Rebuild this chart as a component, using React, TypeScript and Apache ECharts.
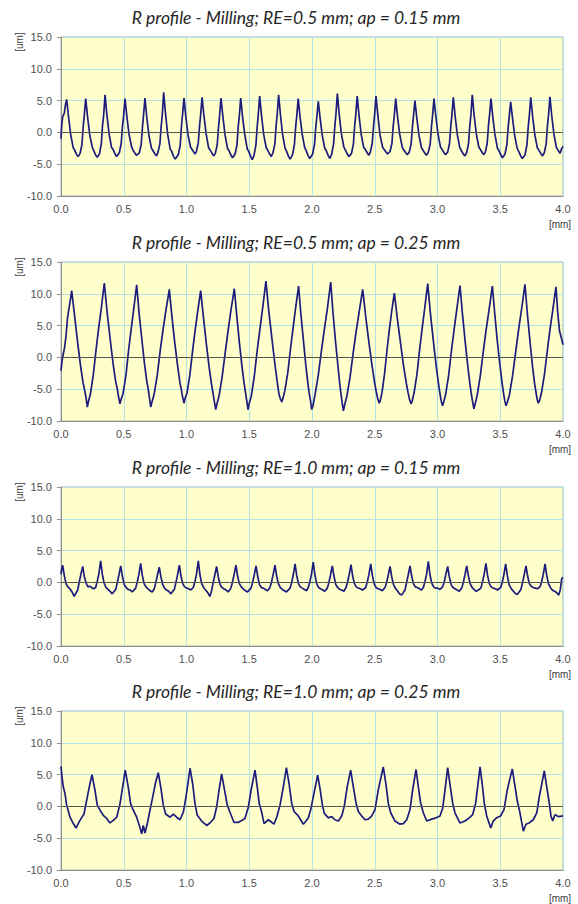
import { useEffect, useRef } from "react";
import * as echarts from "echarts";

const chartTitles = [
  "R profile - Milling; RE=0.5 mm; ap = 0.15 mm",
  "R profile - Milling; RE=0.5 mm; ap = 0.25 mm",
  "R profile - Milling; RE=1.0 mm; ap = 0.15 mm",
  "R profile - Milling; RE=1.0 mm; ap = 0.25 mm",
];
const yUnit = "[um]";
const xUnit = "[mm]";

// profile 1: RE=0.5 mm, ap=0.15 mm  [x mm, z um]
const profile1: [number, number][] = [
  [0,-1.0],[0.006,1.2],[0.014,2.5],[0.026,3.0],[0.036,4.4],
  [0.045,5.2],[0.060,2.5],[0.077,-0.3],[0.097,-2.4],[0.107,-2.7],[0.125,-3.5],[0.137,-3.8],[0.152,-3.3],[0.167,-1.9],[0.177,0.9],[0.186,2.8],
  [0.197,5.3],[0.212,2.4],[0.229,-0.4],[0.249,-2.3],[0.259,-2.8],[0.277,-3.6],[0.289,-3.9],[0.306,-3.4],[0.321,-1.8],[0.331,1.1],[0.340,2.7],
  [0.351,5.9],[0.366,2.7],[0.383,-0.2],[0.403,-2.4],[0.413,-2.6],[0.431,-3.4],[0.443,-3.8],[0.465,-3.2],[0.480,-1.7],[0.490,1.0],[0.499,2.6],
  [0.510,5.3],[0.525,2.5],[0.542,-0.3],[0.562,-2.2],[0.572,-2.7],[0.590,-3.3],[0.602,-3.6],[0.624,-3.2],[0.639,-1.9],[0.649,0.8],[0.658,2.8],
  [0.669,5.4],[0.684,2.3],[0.701,-0.5],[0.721,-2.5],[0.731,-2.8],[0.749,-3.4],[0.761,-3.7],[0.773,-3.1],[0.788,-1.8],[0.798,0.9],[0.807,2.7],
  [0.818,6.3],[0.833,2.9],[0.850,-0.3],[0.870,-2.6],[0.880,-2.9],[0.898,-3.8],[0.910,-4.2],[0.935,-3.5],[0.950,-2.0],[0.960,1.0],[0.969,2.9],
  [0.980,5.4],[0.995,2.4],[1.012,-0.4],[1.032,-2.3],[1.042,-2.6],[1.058,-3.1],[1.070,-3.4],[1.079,-3.0],[1.094,-1.6],[1.104,1.0],[1.113,2.8],
  [1.124,5.5],[1.139,2.6],[1.156,-0.2],[1.176,-2.4],[1.186,-2.7],[1.204,-3.3],[1.216,-3.7],[1.230,-3.3],[1.245,-1.9],[1.255,0.8],[1.264,2.7],
  [1.275,5.4],[1.290,2.5],[1.307,-0.4],[1.327,-2.5],[1.337,-2.8],[1.355,-3.6],[1.367,-4.0],[1.387,-3.4],[1.402,-2.0],[1.412,0.9],[1.421,2.6],
  [1.432,5.4],[1.447,2.4],[1.464,-0.3],[1.484,-2.6],[1.494,-2.9],[1.512,-3.8],[1.524,-4.3],[1.538,-3.6],[1.553,-2.0],[1.563,0.8],[1.572,2.8],
  [1.583,5.7],[1.598,2.6],[1.615,-0.3],[1.635,-2.4],[1.645,-2.7],[1.663,-3.4],[1.675,-3.8],[1.689,-3.2],[1.704,-1.8],[1.714,1.0],[1.723,2.9],
  [1.734,5.9],[1.749,2.7],[1.766,-0.4],[1.786,-2.5],[1.796,-2.9],[1.814,-3.8],[1.826,-4.2],[1.845,-3.5],[1.860,-1.9],[1.870,0.9],[1.879,2.7],
  [1.890,5.3],[1.905,2.4],[1.922,-0.3],[1.942,-2.4],[1.952,-2.8],[1.970,-3.7],[1.982,-4.1],[2.005,-3.4],[2.020,-1.9],[2.030,0.8],[2.039,2.5],
  [2.050,4.9],[2.065,2.2],[2.082,-0.5],[2.102,-2.5],[2.112,-2.8],[2.130,-3.7],[2.142,-4.1],[2.157,-3.4],[2.172,-1.8],[2.182,1.0],[2.191,2.9],
  [2.202,6.1],[2.217,2.8],[2.234,-0.2],[2.254,-2.3],[2.264,-2.7],[2.282,-3.4],[2.294,-3.8],[2.315,-3.3],[2.330,-1.8],[2.340,1.0],[2.349,2.8],
  [2.360,5.7],[2.375,2.6],[2.392,-0.3],[2.412,-2.4],[2.422,-2.6],[2.440,-3.2],[2.452,-3.6],[2.465,-3.1],[2.480,-1.7],[2.490,0.9],[2.499,2.8],
  [2.510,5.7],[2.525,2.6],[2.542,-0.4],[2.562,-2.3],[2.572,-2.6],[2.590,-3.1],[2.602,-3.4],[2.622,-3.0],[2.637,-1.7],[2.647,1.0],[2.656,2.7],
  [2.667,5.3],[2.682,2.4],[2.699,-0.3],[2.719,-2.3],[2.729,-2.7],[2.747,-3.2],[2.759,-3.5],[2.775,-3.1],[2.790,-1.8],[2.800,0.8],[2.809,2.6],
  [2.820,5.0],[2.835,2.3],[2.852,-0.4],[2.872,-2.4],[2.882,-2.7],[2.900,-3.3],[2.912,-3.6],[2.927,-3.1],[2.942,-1.8],[2.952,0.9],[2.961,2.7],
  [2.972,5.3],[2.987,2.5],[3.004,-0.3],[3.024,-2.3],[3.034,-2.6],[3.052,-3.2],[3.064,-3.5],[3.081,-3.1],[3.096,-1.7],[3.106,1.0],[3.115,2.8],
  [3.126,5.5],[3.141,2.5],[3.158,-0.4],[3.178,-2.4],[3.188,-2.8],[3.206,-3.4],[3.218,-3.7],[3.232,-3.2],[3.247,-1.8],[3.257,0.9],[3.266,2.7],
  [3.277,5.9],[3.292,2.7],[3.309,-0.2],[3.329,-2.3],[3.339,-2.6],[3.357,-3.2],[3.369,-3.5],[3.381,-3.1],[3.396,-1.7],[3.406,1.0],[3.415,2.8],
  [3.426,5.3],[3.441,2.4],[3.458,-0.4],[3.478,-2.5],[3.488,-2.8],[3.506,-3.6],[3.518,-4.0],[3.538,-3.4],[3.553,-1.9],[3.563,0.8],[3.572,2.6],
  [3.583,4.8],[3.598,2.2],[3.615,-0.5],[3.635,-2.5],[3.645,-2.9],[3.663,-3.7],[3.675,-4.1],[3.698,-3.5],[3.713,-1.9],[3.723,0.9],[3.732,2.7],
  [3.743,5.5],[3.758,2.5],[3.775,-0.3],[3.795,-2.4],[3.805,-2.7],[3.823,-3.3],[3.835,-3.7],[3.851,-3.2],[3.866,-1.8],[3.876,1.0],[3.885,2.8],
  [3.896,5.6],[3.911,2.5],[3.928,-0.3],[3.948,-2.4],[3.958,-2.7],[3.976,-3.3],[3.988,-2.6],[4.0,-2.2],
];

// profile 2: RE=0.5 mm, ap=0.25 mm
const profile2: [number, number][] = [
  [0,-2.1],[0.008,-0.6],[0.016,0.3],[0.028,1.5],[0.040,3.4],[0.052,6.2],[0.066,8.0],[0.075,9.1],
  [0.085,10.5],[0.108,6.6],[0.133,2.3],[0.155,-1.2],[0.175,-3.9],[0.188,-5.1],[0.199,-6.3],[0.210,-7.8],[0.219,-6.9],[0.234,-5.8],[0.257,-2.8],[0.280,1.3],[0.300,4.6],[0.321,7.7],
  [0.345,11.7],[0.368,7.0],[0.393,2.7],[0.415,-1.0],[0.435,-3.7],[0.448,-4.9],[0.459,-6.2],[0.470,-7.3],[0.479,-6.6],[0.494,-5.7],[0.517,-2.9],[0.539,1.2],[0.559,4.4],[0.579,7.5],
  [0.603,11.4],[0.623,6.8],[0.646,2.5],[0.666,-1.1],[0.684,-3.8],[0.695,-5.0],[0.705,-6.4],[0.715,-7.8],[0.725,-7.0],[0.742,-5.8],[0.767,-2.8],[0.792,1.3],[0.814,4.5],[0.836,7.4],
  [0.863,10.7],[0.884,6.4],[0.907,2.2],[0.929,-1.3],[0.947,-3.9],[0.959,-5.1],[0.969,-6.2],[0.980,-7.2],[0.989,-6.4],[1.004,-5.6],[1.027,-2.7],[1.049,1.1],[1.069,4.3],[1.089,7.2],
  [1.113,10.5],[1.135,6.3],[1.159,2.0],[1.180,-1.5],[1.199,-4.2],[1.211,-5.6],[1.222,-6.9],[1.233,-8.2],[1.243,-7.3],[1.260,-6.0],[1.285,-2.9],[1.310,1.0],[1.332,4.3],[1.354,7.4],
  [1.381,10.8],[1.401,6.5],[1.422,2.2],[1.442,-1.4],[1.459,-4.1],[1.470,-5.5],[1.480,-6.8],[1.490,-8.2],[1.500,-7.2],[1.516,-6.1],[1.540,-3.0],[1.564,1.2],[1.586,4.6],[1.607,7.8],
  [1.633,12.0],[1.656,7.2],[1.681,2.9],[1.704,-1.0],[1.724,-4.0],[1.737,-5.8],[1.749,-6.6],[1.760,-7.0],[1.769,-6.4],[1.784,-5.2],[1.807,-2.4],[1.829,1.4],[1.849,4.6],[1.869,7.7],
  [1.893,11.2],[1.912,6.7],[1.933,2.4],[1.951,-1.3],[1.968,-4.2],[1.978,-5.7],[1.988,-6.8],[1.997,-8.2],[2.008,-7.6],[2.024,-5.9],[2.050,-2.8],[2.076,1.2],[2.099,4.5],[2.122,7.6],
  [2.149,11.85],[2.167,7.1],[2.187,2.6],[2.206,-1.2],[2.222,-4.3],[2.232,-5.9],[2.241,-7.2],[2.250,-8.4],[2.261,-7.4],[2.278,-6.1],[2.304,-3.0],[2.330,1.0],[2.353,4.2],[2.376,7.2],
  [2.404,10.7],[2.428,6.4],[2.454,2.3],[2.478,-1.2],[2.499,-4.0],[2.512,-5.4],[2.524,-6.5],[2.536,-7.2],[2.544,-6.8],[2.558,-5.5],[2.578,-2.6],[2.598,1.2],[2.616,4.3],[2.634,7.1],
  [2.656,10.1],[2.680,6.1],[2.707,2.0],[2.730,-1.4],[2.752,-4.1],[2.765,-5.5],[2.777,-6.6],[2.789,-7.3],[2.798,-6.9],[2.813,-5.6],[2.836,-2.7],[2.858,1.3],[2.878,4.6],[2.898,7.7],
  [2.922,11.6],[2.943,7.0],[2.967,2.6],[2.988,-1.1],[3.007,-4.0],[3.019,-5.6],[3.029,-6.8],[3.040,-7.6],[3.050,-7.0],[3.065,-5.8],[3.089,-2.8],[3.112,1.2],[3.133,4.5],[3.154,7.6],
  [3.179,11.3],[3.199,6.8],[3.221,2.4],[3.241,-1.3],[3.259,-4.3],[3.270,-5.8],[3.280,-7.0],[3.290,-8.1],[3.300,-7.3],[3.316,-6.0],[3.341,-2.9],[3.366,1.1],[3.388,4.4],[3.411,7.5],
  [3.437,11.2],[3.457,6.7],[3.478,2.3],[3.498,-1.3],[3.515,-4.1],[3.526,-5.6],[3.536,-6.8],[3.546,-7.6],[3.557,-7.0],[3.573,-5.9],[3.599,-2.8],[3.625,1.2],[3.647,4.5],[3.670,7.6],
  [3.697,11.5],[3.716,6.9],[3.737,2.5],[3.756,-1.2],[3.773,-4.0],[3.784,-5.4],[3.793,-6.5],[3.803,-7.2],[3.813,-6.8],[3.828,-5.6],[3.852,-2.7],[3.876,1.2],[3.897,4.5],[3.919,7.5],
  [3.944,11.1],[3.958,7.0],[3.972,4.2],[3.985,3.2],[4.0,2.0],
];

// profile 3: RE=1.0 mm, ap=0.15 mm
const profile3: [number, number][] = [
  [0,1.3],[0.006,2.1],
  [0.013,2.7],[0.026,1.1],[0.040,-0.2],[0.055,-0.7],[0.071,-1.0],[0.088,-1.5],[0.105,-2.2],[0.133,-1.2],[0.146,0.1],[0.159,1.3],
  [0.173,2.5],[0.186,0.9],[0.200,-0.1],[0.215,-0.7],[0.231,-0.6],[0.248,-0.9],[0.260,-1.0],[0.276,-0.8],[0.289,0.2],[0.302,1.4],
  [0.316,3.4],[0.329,1.3],[0.343,-0.1],[0.358,-0.8],[0.374,-1.1],[0.391,-1.4],[0.408,-1.8],[0.436,-1.1],[0.449,0.0],[0.462,1.2],
  [0.476,2.6],[0.489,1.0],[0.503,-0.3],[0.518,-0.8],[0.534,-1.1],[0.551,-1.2],[0.568,-1.5],[0.595,-0.9],[0.608,0.1],[0.621,1.3],
  [0.635,3.0],[0.648,1.1],[0.662,-0.2],[0.677,-0.7],[0.693,-1.0],[0.710,-1.3],[0.727,-1.5],[0.743,-1.0],[0.756,0.0],[0.769,1.2],
  [0.783,2.4],[0.796,0.9],[0.810,-0.3],[0.825,-0.9],[0.841,-1.2],[0.858,-1.4],[0.875,-1.8],[0.903,-1.1],[0.916,0.0],[0.929,1.2],
  [0.943,2.7],[0.956,1.0],[0.970,-0.2],[0.985,-0.7],[1.001,-0.9],[1.018,-1.0],[1.035,-1.2],[1.054,-0.8],[1.067,0.1],[1.080,1.3],
  [1.094,3.4],[1.107,1.2],[1.121,-0.2],[1.136,-0.8],[1.152,-1.2],[1.169,-1.6],[1.186,-2.2],[1.200,-1.3],[1.213,0.0],[1.226,1.2],
  [1.240,2.5],[1.253,0.9],[1.267,-0.3],[1.282,-0.8],[1.298,-1.0],[1.315,-1.2],[1.332,-1.5],[1.354,-0.9],[1.367,0.1],[1.380,1.3],
  [1.394,2.7],[1.407,1.0],[1.421,-0.2],[1.436,-0.7],[1.452,-1.0],[1.469,-1.3],[1.486,-1.5],[1.514,-0.9],[1.527,0.0],[1.540,1.2],
  [1.554,2.6],[1.567,1.0],[1.581,-0.3],[1.596,-0.8],[1.612,-0.9],[1.629,-1.1],[1.646,-1.3],[1.665,-0.8],[1.678,0.1],[1.691,1.3],
  [1.705,2.7],[1.718,1.0],[1.732,-0.2],[1.747,-0.8],[1.763,-1.1],[1.780,-1.3],[1.797,-1.5],[1.825,-0.9],[1.838,0.0],[1.851,1.2],
  [1.865,2.9],[1.878,1.1],[1.892,-0.2],[1.907,-0.7],[1.923,-0.9],[1.940,-1.1],[1.957,-1.3],[1.970,-0.8],[1.983,0.1],[1.996,1.3],
  [2.010,3.2],[2.023,1.2],[2.037,-0.2],[2.052,-0.8],[2.068,-1.0],[2.085,-1.2],[2.102,-1.4],[2.122,-0.9],[2.135,0.0],[2.148,1.2],
  [2.162,2.6],[2.175,1.0],[2.189,-0.3],[2.204,-0.8],[2.220,-1.1],[2.237,-1.2],[2.254,-1.4],[2.271,-0.8],[2.284,0.1],[2.297,1.3],
  [2.311,2.8],[2.324,1.0],[2.338,-0.2],[2.353,-0.7],[2.369,-0.9],[2.386,-1.0],[2.403,-1.2],[2.428,-0.8],[2.441,0.1],[2.454,1.3],
  [2.468,2.9],[2.481,1.1],[2.495,-0.2],[2.510,-0.8],[2.526,-1.0],[2.543,-1.1],[2.560,-1.3],[2.582,-0.8],[2.595,0.0],[2.608,1.2],
  [2.622,2.5],[2.635,0.9],[2.649,-0.3],[2.664,-0.9],[2.680,-1.3],[2.697,-1.8],[2.714,-2.0],[2.741,-1.2],[2.754,0.0],[2.767,1.2],
  [2.781,2.6],[2.794,1.0],[2.808,-0.2],[2.823,-0.7],[2.839,-0.8],[2.856,-1.0],[2.873,-1.2],[2.887,-0.8],[2.900,0.1],[2.913,1.3],
  [2.927,3.3],[2.940,1.2],[2.954,-0.1],[2.969,-0.7],[2.985,-0.9],[3.002,-0.9],[3.019,-1.1],[3.041,-0.7],[3.054,0.1],[3.067,1.3],
  [3.081,2.5],[3.094,0.9],[3.108,-0.3],[3.123,-0.8],[3.139,-1.0],[3.156,-1.2],[3.173,-1.4],[3.193,-0.9],[3.206,0.0],[3.219,1.2],
  [3.233,2.6],[3.246,1.0],[3.260,-0.2],[3.275,-0.8],[3.291,-1.1],[3.308,-1.4],[3.325,-1.2],[3.346,-0.9],[3.359,0.1],[3.372,1.3],
  [3.386,3.0],[3.399,1.1],[3.413,-0.2],[3.428,-0.7],[3.444,-0.9],[3.461,-1.0],[3.478,-1.2],[3.503,-0.8],[3.516,0.0],[3.529,1.2],
  [3.543,2.9],[3.556,1.1],[3.570,-0.3],[3.585,-0.9],[3.601,-1.3],[3.618,-1.7],[3.635,-1.9],[3.665,-1.1],[3.678,0.0],[3.691,1.2],
  [3.705,2.6],[3.718,1.0],[3.732,-0.2],[3.747,-0.6],[3.763,-0.8],[3.780,-0.9],[3.797,-1.0],[3.817,-0.7],[3.830,0.1],[3.843,1.3],
  [3.857,2.9],[3.870,1.1],[3.884,-0.2],[3.899,-0.8],[3.915,-1.2],[3.932,-1.4],[3.949,-1.6],[3.966,-2.0],[3.978,-1.2],[3.990,0.6],[4.0,0.8],
];

// profile 4: RE=1.0 mm, ap=0.25 mm
const profile4: [number, number][] = [
  [0,6.3],[0.008,4.6],[0.019,3.0],[0.032,2.0],[0.045,0.2],[0.072,-1.7],[0.098,-2.7],[0.120,-3.4],[0.130,-3.0],[0.151,-2.2],[0.183,-1.2],[0.210,1.5],[0.231,3.6],
  [0.247,5.0],[0.271,2.5],[0.289,0.2],[0.311,-0.6],[0.337,-1.4],[0.364,-1.9],[0.390,-2.6],[0.417,-2.2],[0.444,-1.7],[0.470,0.4],[0.491,3.0],
  [0.512,5.7],[0.536,3.0],[0.555,0.4],[0.576,-0.6],[0.603,-1.7],[0.629,-3.3],[0.643,-4.3],[0.656,-3.0],[0.669,-4.2],[0.688,-2.7],[0.709,-0.6],[0.731,1.5],[0.752,3.6],
  [0.775,5.3],[0.797,2.8],[0.815,0.2],[0.834,-1.2],[0.869,-1.7],[0.895,-1.2],[0.922,-1.7],[0.948,-2.1],[0.975,-0.9],[0.996,1.5],[1.015,4.1],
  [1.028,6.0],[1.049,3.6],[1.068,0.4],[1.086,-1.4],[1.121,-2.3],[1.161,-3.0],[1.192,-2.5],[1.219,-1.9],[1.240,-0.1],[1.259,2.5],
  [1.280,5.1],[1.301,2.8],[1.325,0.2],[1.352,-1.2],[1.378,-2.5],[1.413,-2.5],[1.440,-2.2],[1.466,-1.9],[1.493,-0.1],[1.514,2.5],
  [1.546,5.7],[1.564,3.0],[1.580,0.4],[1.599,-0.9],[1.618,-2.7],[1.652,-2.1],[1.679,-2.5],[1.697,-2.8],[1.719,-1.7],[1.745,0.2],[1.771,3.0],
  [1.796,6.1],[1.817,3.6],[1.838,0.5],[1.857,-0.8],[1.891,-1.5],[1.931,-2.8],[1.952,-2.3],[1.971,-1.8],[1.990,-0.5],[2.010,1.5],
  [2.045,4.9],[2.064,2.8],[2.082,0.3],[2.098,-1.1],[2.130,-1.8],[2.157,-1.6],[2.183,-2.1],[2.210,-2.3],[2.237,-1.5],[2.257,0.0],[2.281,3.1],
  [2.308,5.7],[2.329,3.1],[2.351,0.5],[2.369,-0.8],[2.396,-1.5],[2.422,-2.1],[2.449,-2.0],[2.476,-1.5],[2.502,-0.5],[2.528,2.6],
  [2.568,6.2],[2.590,3.4],[2.608,0.5],[2.627,-1.0],[2.661,-2.3],[2.701,-2.8],[2.728,-2.7],[2.755,-2.1],[2.781,-0.5],[2.802,2.6],
  [2.829,5.8],[2.847,3.1],[2.866,0.5],[2.887,-1.0],[2.914,-2.3],[2.954,-2.0],[2.988,-1.8],[3.020,-1.5],[3.041,-0.3],[3.060,2.6],
  [3.081,6.1],[3.100,3.4],[3.121,0.5],[3.139,-1.0],[3.179,-2.6],[3.219,-2.3],[3.253,-1.8],[3.280,-1.3],[3.304,0.5],[3.320,3.1],
  [3.339,6.2],[3.357,3.4],[3.373,0.5],[3.392,-1.5],[3.424,-3.4],[3.444,-2.3],[3.471,-1.8],[3.503,-1.5],[3.530,-0.5],[3.556,2.6],
  [3.596,5.9],[3.618,3.1],[3.636,0.8],[3.652,-0.5],[3.684,-3.9],[3.705,-2.8],[3.731,-2.6],[3.763,-2.1],[3.791,-1.0],[3.811,1.5],
  [3.851,5.6],[3.870,3.1],[3.891,0.5],[3.904,-1.5],[3.918,-2.3],[3.936,-1.3],[3.963,-1.6],[4.0,-1.5],
];

const profiles = [profile1, profile2, profile3, profile4];

export default function App() {
  const ref = useRef<HTMLDivElement>(null);
  useEffect(() => {
    if (!ref.current) return;
    const chart = echarts.init(ref.current, undefined, { renderer: "svg" });
    const tops = [37, 262, 487, 711];
    const gridH = 159;
    const gridL = 61;
    const gridW = 502;
    const labelStyle = { fontFamily: "Liberation Sans", fontSize: 11, color: "#505050" };
    const grid = tops.map((t) => ({
      left: gridL, top: t, width: gridW, height: gridH,
      show: true, backgroundColor: "#FFFFCC", borderColor: "#b0b0b0", borderWidth: 1,
    }));
    const xAxis = tops.map((_, i) => ({
      type: "value", gridIndex: i, min: 0, max: 4, interval: 0.5,
      axisLine: { show: true, onZero: false, lineStyle: { color: "#909090" } },
      axisTick: { show: false },
      axisLabel: { ...labelStyle, margin: 7, formatter: (v: number) => v.toFixed(1) },
      splitLine: { show: true, lineStyle: { color: "#b2e2e4", width: 1 } },
    }));
    const yAxis = tops.map((_, i) => ({
      type: "value", gridIndex: i, min: -10, max: 15, interval: 5,
      axisLine: { show: true, lineStyle: { color: "#909090" } },
      axisTick: { show: true, length: 4, lineStyle: { color: "#909090" } },
      axisLabel: { ...labelStyle, margin: 9, formatter: (v: number) => v.toFixed(1) },
      splitLine: { show: true, lineStyle: { color: "#b2e2e4", width: 1 } },
    }));
    const series = profiles.map((p, i) => ({
      type: "line", xAxisIndex: i, yAxisIndex: i, data: p,
      showSymbol: false, symbol: "none",
      lineStyle: { color: "#1c1c7c", width: 1.7 },
      markLine: {
        silent: true, symbol: "none", label: { show: false },
        lineStyle: { color: "#555555", width: 1, type: "solid" },
        data: [{ yAxis: 0 }],
      },
    }));
    const graphic: any[] = [];
    tops.forEach((t, i) => {
      graphic.push({
        type: "text", x: 296, y: t - 20,
        style: {
          text: chartTitles[i], textAlign: "center", textVerticalAlign: "middle",
          font: "italic 17.5px Lato", fill: "#262626",
        },
      });
      graphic.push({
        type: "text", x: 19, y: t + 5, rotation: Math.PI / 2,
        style: {
          text: yUnit, textAlign: "center", textVerticalAlign: "middle",
          font: "10px 'Liberation Sans'", fill: "#404040",
        },
      });
      graphic.push({
        type: "text", x: 560, y: t + gridH + 28,
        style: {
          text: xUnit, textAlign: "center", textVerticalAlign: "middle",
          font: "10px 'Liberation Sans'", fill: "#404040",
        },
      });
    });
    chart.setOption({
      animation: false,
      backgroundColor: "#ffffff",
      grid, xAxis, yAxis, series, graphic,
    } as any);
    return () => chart.dispose();
  }, []);
  return (
    <div
      ref={ref}
      style={{ position: "absolute", left: 0, top: 0, width: 578, height: 904 }}
    />
  );
}
